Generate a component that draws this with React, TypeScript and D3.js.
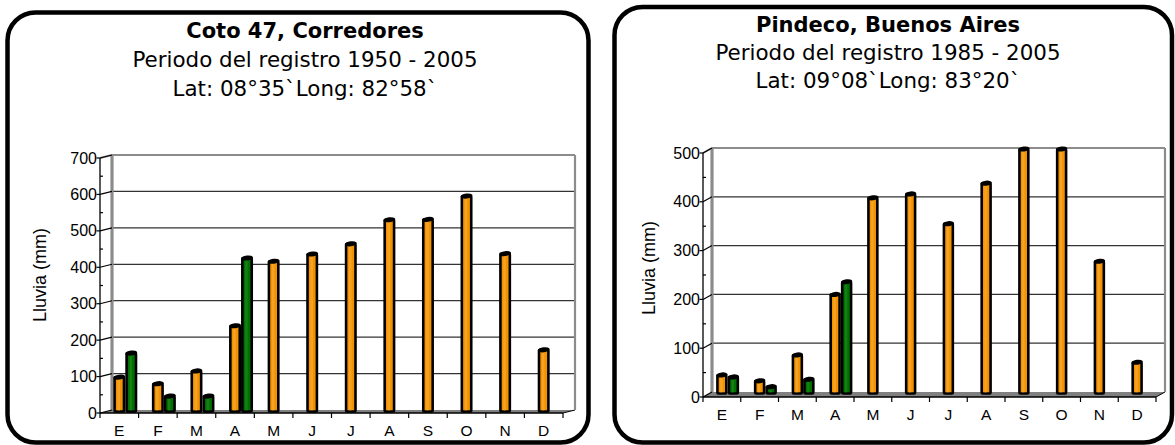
import React from "react";
import * as d3 from "d3";

const months = ["E", "F", "M", "A", "M ", "J", "J ", "A ", "S", "O", "N", "D"];
const monthLabels = ["E", "F", "M", "A", "M", "J", "J", "A", "S", "O", "N", "D"];

// Coto 47, Corredores
const cotoOrange = [93, 75, 110, 234, 411, 431, 459, 525, 526, 590, 432, 168];
const cotoGreen: (number | null)[] = [159, 41, 41, 420, null, null, null, null, null, null, null, null];
const cotoTicks = [0, 100, 200, 300, 400, 500, 600, 700];

// Pindeco, Buenos Aires
const pindOrange = [37, 25, 78, 202, 400, 408, 347, 430, 500, 500, 270, 63];
const pindGreen: (number | null)[] = [33, 13, 28, 228, null, null, null, null, null, null, null, null];
const pindTicks = [0, 100, 200, 300, 400, 500];

const titles1 = ["Coto 47, Corredores", "Periodo del registro 1950 - 2005", "Lat: 08°35`Long: 82°58`"];
const titles2 = ["Pindeco, Buenos Aires", "Periodo del registro 1985 - 2005", "Lat: 09°08`Long: 83°20`"];

const ORANGE = "#f39200";
const ORANGE_HI = "#f8b347";
const GREEN = "#007000";
const GREEN_HI = "#2a8f2a";

type Layout = {
  x0: number; x1: number; yB0: number; yBTop: number; dx: number; dy: number; bw: number;
  titleX: number; titleY: number[]; yTitleX: number; yTitleY: number;
  panel: { x: number; y: number; w: number; h: number };
};

function Bar({ cx, top, bottom, w, fill, hi }: { cx: number; top: number; bottom: number; w: number; fill: string; hi: string }) {
  const x = cx - w / 2;
  return (
    <g>
      <rect x={x} y={top} width={w} height={bottom - top} rx={1} fill={fill} stroke="#000" strokeWidth={2.6} />
      <rect x={x + w * 0.3} y={top + 2} width={w * 0.28} height={Math.max(0, bottom - top - 3)} fill={hi} opacity={0.5} />
      <ellipse cx={cx} cy={top} rx={w / 2 + 1.3} ry={2.5} fill="#000" transform={`rotate(-7 ${cx} ${top})`} />
    </g>
  );
}

function Chart({ L, orange, green, ticks, titles }: { L: Layout; orange: number[]; green: (number | null)[]; ticks: number[]; titles: string[] }) {
  const max = ticks[ticks.length - 1];
  const yBack = d3.scaleLinear().domain([0, max]).range([L.yB0, L.yBTop]);
  const yFront = (v: number) => yBack(v) - L.dy;
  const x = d3.scaleBand<string>().domain(months).range([L.x0, L.x1]).padding(0);
  const cw = x.bandwidth();
  const minor = d3.range(50, max, 100);
  const yBar = (v: number) => yBack(v) + 1;
  const barBottom = yBack(0) + 1.5;
  const w = L.bw - 2.6;
  const yF0 = yFront(0);
  const xb0 = L.x0 + L.dx;
  const xb1 = L.x1 + L.dx;
  const font = "Liberation Sans, Arial, Helvetica, sans-serif";
  const tfont = "DejaVu Sans, Verdana, sans-serif";
  return (
    <g>
      <rect x={L.panel.x} y={L.panel.y} width={L.panel.w} height={L.panel.h} rx={28} ry={28} fill="#fff" stroke="#000" strokeWidth={4.5} />
      {titles.map((t, i) => (
        <text key={i} x={L.titleX} y={L.titleY[i]} textAnchor="middle" fontFamily={tfont} fontSize={i === 0 ? 21 : 21.4} fontWeight={i === 0 ? "bold" : "normal"} fill="#000">{t}</text>
      ))}
      <text transform={`translate(${L.yTitleX},${L.yTitleY}) rotate(-90)`} textAnchor="middle" fontFamily={font} fontSize={18} fill="#000">Lluvia (mm)</text>
      {/* floor */}
      <polygon points={`${L.x0},${yF0} ${L.x1},${yF0} ${xb1},${L.yB0} ${xb0},${L.yB0}`} fill="#808080" />
      <line x1={L.x1} y1={yF0} x2={xb1} y2={L.yB0} stroke="#000" strokeWidth={1} />
      {/* gridlines */}
      {ticks.slice(1, -1).map((t) => (
        <line key={t} x1={xb0} x2={xb1} y1={yBack(t)} y2={yBack(t)} stroke="#333" strokeWidth={1.2} />
      ))}
      {/* wall borders */}
      <line x1={xb0} y1={yBack(max)} x2={xb1} y2={yBack(max)} stroke="#8c8c8c" strokeWidth={2.2} />
      <line x1={xb1} y1={yBack(max)} x2={xb1} y2={L.yB0} stroke="#8c8c8c" strokeWidth={2.2} />
      <line x1={L.x0} y1={yFront(max)} x2={xb0} y2={yBack(max)} stroke="#8c8c8c" strokeWidth={2} />
      <line x1={xb0} y1={yBack(max)} x2={xb0} y2={L.yB0} stroke="#8c8c8c" strokeWidth={3.2} />
      {/* bars */}
      {months.map((m, i) => {
        const c = (x(m) as number) + cw / 2;
        const g = green[i];
        return (
          <g key={m}>
            <Bar cx={c} top={yBar(orange[i])} bottom={barBottom} w={w} fill={ORANGE} hi={ORANGE_HI} />
            {g != null && <Bar cx={c + L.bw} top={yBar(g)} bottom={barBottom} w={w} fill={GREEN} hi={GREEN_HI} />}
          </g>
        );
      })}
      {/* axes */}
      <line x1={L.x0} y1={yF0} x2={L.x0} y2={yFront(max)} stroke="#000" strokeWidth={1.3} />
      <line x1={L.x0} y1={yF0} x2={L.x1} y2={yF0} stroke="#000" strokeWidth={1.3} />
      {ticks.map((t) => (
        <g key={"t" + t}>
          <line x1={L.x0 - 3.5} x2={L.x0} y1={yFront(t)} y2={yFront(t)} stroke="#000" strokeWidth={1.2} />
          <line x1={L.x0} x2={xb0} y1={yFront(t)} y2={yBack(t)} stroke="#000" strokeWidth={1.2} />
          <text x={L.x0 - 3} y={yFront(t) + 5.5} textAnchor="end" fontFamily={font} fontSize={16} fill="#000">{t}</text>
        </g>
      ))}
      {minor.map((t) => (
        <line key={"m" + t} x1={L.x0} x2={L.x0 + 3} y1={yFront(t)} y2={yFront(t)} stroke="#000" strokeWidth={1.2} />
      ))}
      {d3.range(0, 13).map((i) => (
        <line key={"xt" + i} x1={L.x0 + i * cw} x2={L.x0 + i * cw} y1={yF0} y2={yF0 + 5} stroke="#000" strokeWidth={1.2} />
      ))}
      {months.map((m, i) => (
        <text key={"l" + m} x={(x(m) as number) + cw / 2} y={yF0 + 22.5} textAnchor="middle" fontFamily={font} fontSize={15.5} fill="#000">{monthLabels[i]}</text>
      ))}
    </g>
  );
}

const layout1: Layout = {
  x0: 100, x1: 563, yB0: 410, yBTop: 155, dx: 12, dy: -3, bw: 12,
  titleX: 305, titleY: [38, 67, 96], yTitleX: 46, yTitleY: 275,
  panel: { x: 7.5, y: 12.5, w: 581, h: 430 },
};
const layout2: Layout = {
  x0: 703, x1: 1156, yB0: 392, yBTop: 148, dx: 9, dy: -5, bw: 11.5,
  titleX: 888, titleY: [32, 60, 88], yTitleX: 655, yTitleY: 268,
  panel: { x: 614.5, y: 7, w: 557.5, h: 435.5 },
};

export default function App() {
  return (
    <svg width={1175} height={445} style={{ position: "absolute", left: 0, top: 0, background: "#fff" }}>
      <rect x={0} y={0} width={1175} height={445} fill="#fff" />
      <Chart L={layout1} orange={cotoOrange} green={cotoGreen} ticks={cotoTicks} titles={titles1} />
      <Chart L={layout2} orange={pindOrange} green={pindGreen} ticks={pindTicks} titles={titles2} />
    </svg>
  );
}
